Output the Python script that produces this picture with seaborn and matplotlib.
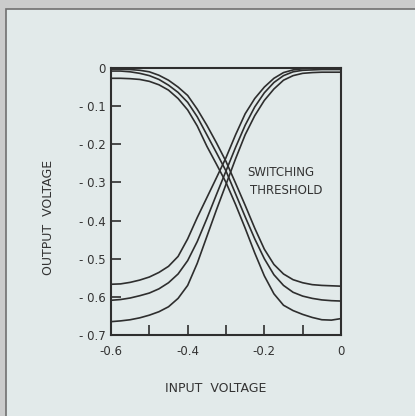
import numpy as np
import pandas as pd
import matplotlib
matplotlib.use("Agg")
import matplotlib.pyplot as plt
from matplotlib.patches import Rectangle
import seaborn as sns

# Input voltage samples (V)
input_v = [-0.600, -0.575, -0.550, -0.525, -0.500, -0.475, -0.450, -0.425,
           -0.400, -0.375, -0.350, -0.325, -0.300, -0.275, -0.250, -0.225,
           -0.200, -0.175, -0.150, -0.125, -0.100, -0.075, -0.050, -0.025, 0.000]

# Inverting outputs (fall as the input rises)
fall_1 = [-0.027, -0.027, -0.028, -0.030, -0.035, -0.044, -0.058, -0.080,
          -0.110, -0.152, -0.205, -0.252, -0.300, -0.358, -0.420, -0.485,
          -0.545, -0.592, -0.622, -0.636, -0.646, -0.654, -0.660, -0.661, -0.657]
fall_2 = [-0.008, -0.008, -0.010, -0.014, -0.020, -0.030, -0.045, -0.064,
          -0.090, -0.128, -0.175, -0.222, -0.270, -0.330, -0.390, -0.448,
          -0.500, -0.542, -0.570, -0.588, -0.598, -0.604, -0.608, -0.610, -0.611]
fall_3 = [-0.003, -0.003, -0.004, -0.006, -0.010, -0.019, -0.032, -0.050,
          -0.072, -0.108, -0.150, -0.196, -0.245, -0.302, -0.360, -0.420,
          -0.475, -0.515, -0.540, -0.555, -0.563, -0.568, -0.570, -0.571, -0.572]

# Non-inverting outputs (rise as the input rises)
rise_1 = [-0.567, -0.566, -0.562, -0.556, -0.548, -0.536, -0.520, -0.494,
          -0.448, -0.392, -0.340, -0.288, -0.235, -0.175, -0.120, -0.080,
          -0.050, -0.027, -0.012, -0.005, -0.002, -0.001, 0.000, 0.000, 0.000]
rise_2 = [-0.609, -0.607, -0.603, -0.597, -0.590, -0.579, -0.563, -0.540,
          -0.505, -0.455, -0.395, -0.332, -0.270, -0.208, -0.150, -0.102,
          -0.065, -0.038, -0.020, -0.010, -0.006, -0.005, -0.004, -0.004, -0.004]
rise_3 = [-0.665, -0.663, -0.660, -0.655, -0.648, -0.639, -0.626, -0.604,
          -0.570, -0.512, -0.442, -0.372, -0.305, -0.238, -0.175, -0.125,
          -0.085, -0.055, -0.032, -0.020, -0.014, -0.012, -0.011, -0.011, -0.011]

x_ticks = [-0.6, -0.5, -0.4, -0.3, -0.2, -0.1, 0.0]
x_tick_labels = ["-0.6", "", "-0.4", "", "-0.2", "", "0"]
y_ticks = [0.0, -0.1, -0.2, -0.3, -0.4, -0.5, -0.6, -0.7]
y_tick_labels = ["0", "- 0.1", "- 0.2", "- 0.3", "- 0.4", "- 0.5", "- 0.6", "- 0.7"]

curves = {"fall_1": fall_1, "fall_2": fall_2, "fall_3": fall_3,
          "rise_1": rise_1, "rise_2": rise_2, "rise_3": rise_3}
df = pd.concat(
    [pd.DataFrame({"input": input_v, "output": vals, "curve": name})
     for name, vals in curves.items()],
    ignore_index=True,
)

sns.set_theme(style="white")
ink = "#2e2e2e"
text_ink = "#333333"
panel = "#e2eaea"
plt.rcParams["font.family"] = ["DejaVu Sans"]

fig = plt.figure(figsize=(4.15, 4.16), dpi=100)
fig.patch.set_facecolor("#cbcccc")
# light card with a dark rule along its top and left edges
fig.add_artist(Rectangle((6 / 415, -0.1), 1.2, 1.1 - 9 / 416,
                         transform=fig.transFigure, facecolor=panel,
                         edgecolor="#707070", linewidth=1.2, zorder=0))

ax = fig.add_axes([111 / 415, 1 - 335 / 416, 230 / 415, 267 / 416])
ax.set_facecolor(panel)

sns.lineplot(data=df, x="input", y="output", units="curve", estimator=None,
             color=ink, linewidth=1.2, ax=ax, legend=False)

ax.set_xlim(-0.6, 0.0)
ax.set_ylim(-0.7, 0.0)
ax.set_xticks(x_ticks)
ax.set_xticklabels(x_tick_labels)
ax.set_yticks(y_ticks)
ax.set_yticklabels(y_tick_labels)
ax.tick_params(axis="x", direction="in", length=7, width=1.2, colors=ink,
               labelsize=8.5, pad=7, bottom=True, top=False)
ax.tick_params(axis="y", direction="in", length=7, width=1.2, colors=ink,
               labelsize=8.5, pad=4, left=True, right=False)
for lbl in ax.get_xticklabels() + ax.get_yticklabels():
    lbl.set_color(text_ink)
for side in ax.spines.values():
    side.set_visible(True)
    side.set_color(ink)
    side.set_linewidth(1.5)

ax.set_xlabel("")
ax.set_ylabel("")
fig.text(216 / 415, 1 - 388 / 416, "INPUT  VOLTAGE", ha="center", va="center",
         fontsize=9, color=text_ink)
fig.text(49 / 415, 1 - 217 / 416, "OUTPUT  VOLTAGE", ha="center", va="center",
         rotation=90, fontsize=9, color=text_ink)

ax.text(-0.245, -0.275, "SWITCHING", ha="left", va="center", fontsize=8.5,
        color=text_ink)
ax.text(-0.237, -0.322, "THRESHOLD", ha="left", va="center", fontsize=8.5,
        color=text_ink)

fig.savefig("out.png", dpi=100, facecolor=fig.get_facecolor())
